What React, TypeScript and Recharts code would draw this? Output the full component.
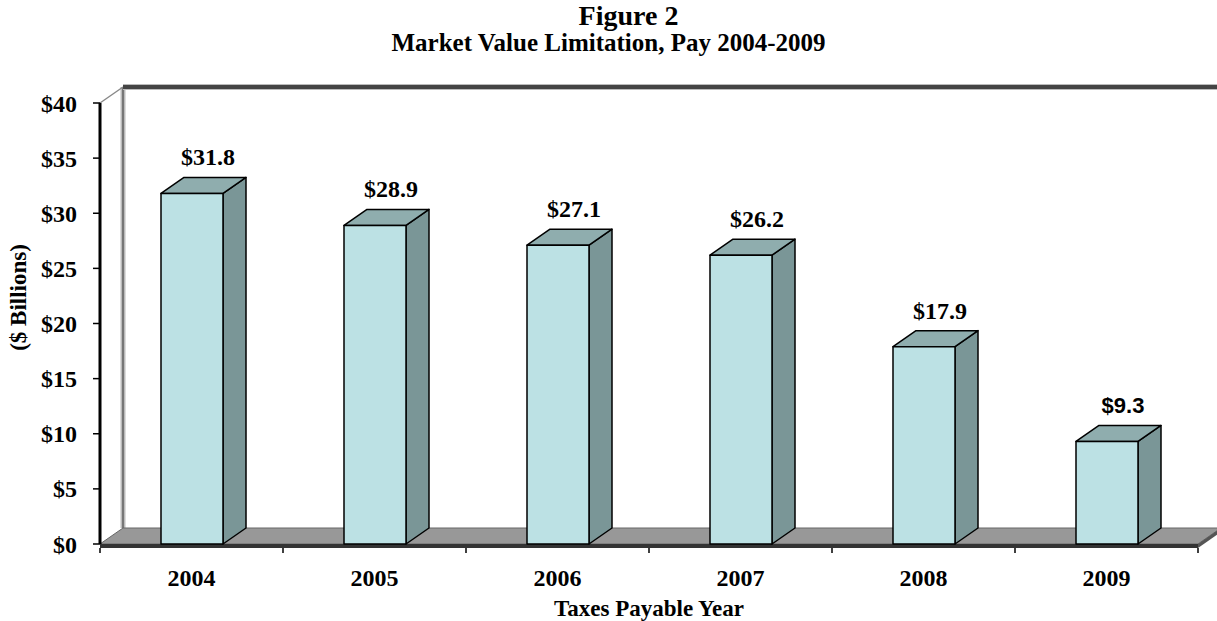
import { BarChart, Bar, XAxis, YAxis, LabelList, ReferenceArea } from 'recharts';

const years = ['2004', '2005', '2006', '2007', '2008', '2009'];
const values = [31.8, 28.9, 27.1, 26.2, 17.9, 9.3];
const yTicks = [0, 5, 10, 15, 20, 25, 30, 35, 40];

const data = years.map((year, i) => ({ year, value: values[i] }));

const SERIF = '"Liberation Serif", "Times New Roman", serif';
const SANS = '"Liberation Sans", Arial, sans-serif';
const DX = 23;
const DY = 16;

// 3D box for each bar
function Box3D(props: any) {
  const { x, y, width: w, height: h } = props;
  if (w == null || h == null) return null;
  const stroke = { stroke: '#000', strokeWidth: 1.5, strokeLinejoin: 'round' as const };
  return (
    <g>
      <polygon
        points={`${x + w},${y} ${x + w + DX},${y - DY} ${x + w + DX},${y + h - DY} ${x + w},${y + h}`}
        fill="#7a9697"
        {...stroke}
      />
      <polygon
        points={`${x},${y} ${x + DX},${y - DY} ${x + w + DX},${y - DY} ${x + w},${y}`}
        fill="#8fadae"
        {...stroke}
      />
      <rect x={x} y={y} width={w} height={h} fill="#bce1e4" {...stroke} />
    </g>
  );
}

// back wall, side wall edge and floor slab
function Walls(props: any) {
  const { x, y, width: w, height: h } = props;
  const by = y + h;
  const n = years.length;
  return (
    <g>
      <line x1={x + DX} y1={y - DY} x2={x + DX} y2={by - DY} stroke="#bbb" strokeWidth={5} />
      <line x1={x + DX} y1={y - DY} x2={x + DX} y2={by - DY} stroke="#777" strokeWidth={2} />
      <line x1={x} y1={y} x2={x + DX} y2={y - DY} stroke="#888" strokeWidth={1.5} />
      <line x1={x + DX} y1={y - DY} x2={x + w + DX + 40} y2={y - DY} stroke="#bbb" strokeWidth={6} />
      <line x1={x + DX} y1={y - DY} x2={x + w + DX + 40} y2={y - DY} stroke="#444" strokeWidth={4} />
      <polygon
        points={`${x},${by} ${x + w},${by} ${x + w + DX},${by - DY} ${x + DX},${by - DY}`}
        fill="#989898"
        stroke="#666"
        strokeWidth={1}
      />
      <polygon
        points={`${x + w},${by} ${x + w + DX},${by - DY} ${x + w + DX},${by - DY + 4} ${x + w},${by + 4}`}
        fill="#555"
      />
      <rect x={x} y={by} width={w} height={4} fill="#333" />
      {Array.from({ length: n + 1 }, (_, i) => (
        <line
          key={i}
          x1={x + (i * w) / n}
          y1={by + 4}
          x2={x + (i * w) / n}
          y2={by + 9}
          stroke="#000"
          strokeWidth={1.5}
        />
      ))}
    </g>
  );
}

function ValueLabel(props: any) {
  const { x, y, width, value, index } = props;
  const last = index === values.length - 1;
  return (
    <text
      x={x + width / 2 + 16}
      y={y - DY - 12}
      textAnchor="middle"
      fontFamily={last ? SANS : SERIF}
      fontWeight="bold"
      fontSize={last ? 22 : 24}
      fill="#000"
    >
      {`$${value.toFixed(1)}`}
    </text>
  );
}

function YLabel(props: any) {
  const { viewBox } = props;
  const cx = viewBox.x + 18;
  const cy = viewBox.y + viewBox.height / 2 - 26;
  return (
    <text
      transform={`translate(${cx}, ${cy}) rotate(-90)`}
      textAnchor="middle"
      dominantBaseline="central"
      fontFamily={SERIF}
      fontWeight="bold"
      fontSize={23}
      fill="#000"
    >
      ($ Billions)
    </text>
  );
}

export default function App() {
  return (
    <div style={{ position: 'absolute', left: 0, top: 0, width: 1217, height: 621, background: '#fff' }}>
      <div
        style={{
          position: 'absolute',
          top: 2,
          left: 0,
          width: 1217,
          textAlign: 'center',
          fontFamily: SERIF,
          fontWeight: 'bold',
          fontSize: 25,
          lineHeight: '27px',
        }}
      >
        <div style={{ fontSize: 28, paddingLeft: 40 }}>Figure 2</div>
        <div>Market Value Limitation, Pay 2004-2009</div>
      </div>
      <BarChart
        width={1217}
        height={621}
        data={data}
        margin={{ top: 103, right: 19, left: 0, bottom: 0 }}
        barSize={62}
      >
        <ReferenceArea y1={0} y2={40} shape={Walls} ifOverflow="visible" />
        <XAxis
          dataKey="year"
          height={77}
          axisLine={false}
          tickLine={false}
          tickMargin={19}
          tick={{ fontFamily: SERIF, fontWeight: 'bold', fontSize: 24, fill: '#000' }}
          label={{
            value: 'Taxes Payable Year',
            position: 'insideBottom',
            offset: 5,
            style: { fontFamily: SERIF, fontWeight: 'bold', fontSize: 23, fill: '#000' },
          }}
        />
        <YAxis
          width={100}
          domain={[0, 40]}
          ticks={yTicks}
          interval={0}
          axisLine={{ stroke: '#000', strokeWidth: 3 }}
          tickLine={{ stroke: '#000', strokeWidth: 1.5 }}
          tickSize={7}
          tickMargin={16}
          tickFormatter={(v: number) => `$${v}`}
          tick={{ fontFamily: SERIF, fontWeight: 'bold', fontSize: 24, fill: '#000' }}
          label={<YLabel />}
        />
        <Bar dataKey="value" shape={Box3D} isAnimationActive={false}>
          <LabelList dataKey="value" content={ValueLabel} />
        </Bar>
      </BarChart>
    </div>
  );
}
